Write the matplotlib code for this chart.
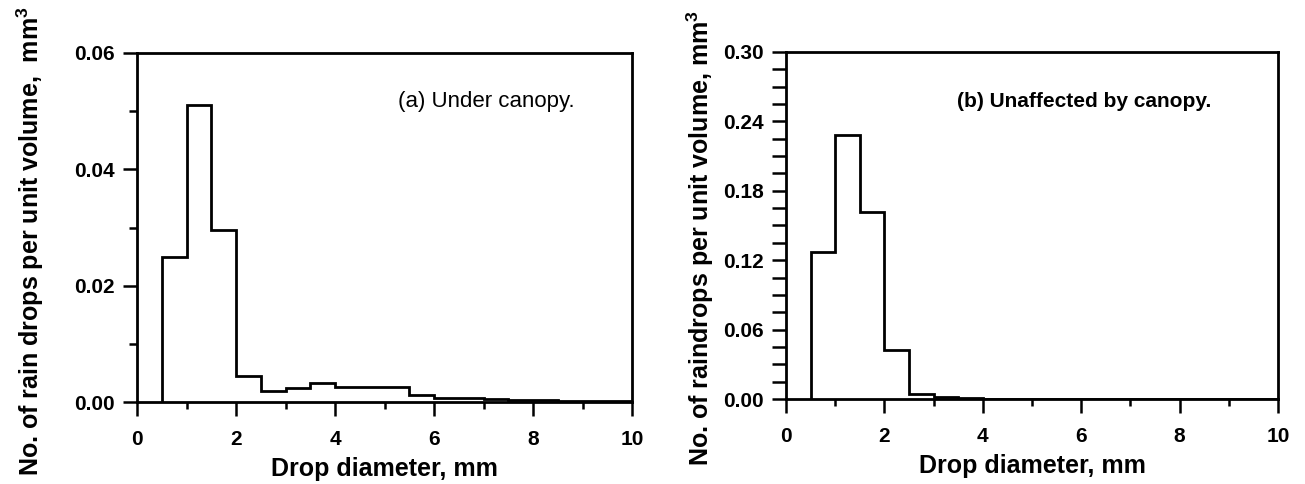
import matplotlib
matplotlib.use("Agg")
import matplotlib.pyplot as plt
from matplotlib.ticker import MultipleLocator, FormatStrFormatter

plt.rcParams['font.family'] = ['Liberation Sans', 'DejaVu Sans']
plt.rcParams['mathtext.fontset'] = 'custom'
plt.rcParams['mathtext.rm'] = 'Liberation Sans:bold'
plt.rcParams['mathtext.bf'] = 'Liberation Sans:bold'

# bin edges (mm)
edges = [0.5, 1.0, 1.5, 2.0, 2.5, 3.0, 3.5, 4.0, 4.5, 5.0, 5.5, 6.0,
         6.5, 7.0, 7.5, 8.0, 8.5, 9.0, 9.5, 10.0]

# (a) under canopy
under = [0.025, 0.051, 0.0296, 0.0045, 0.0019, 0.0024, 0.0033, 0.0025,
         0.0025, 0.0025, 0.0012, 0.0007, 0.0007, 0.0006, 0.0004, 0.0003,
         0.0002, 0.0001, 0.0001]

# (b) unaffected by canopy
open_sky = [0.127, 0.228, 0.162, 0.042, 0.004, 0.002, 0.001, 0.0, 0.0,
            0.0, 0.0, 0.0, 0.0, 0.0, 0.0, 0.0, 0.0, 0.0, 0.0]

fig = plt.figure(figsize=(13.05, 4.84), dpi=100)
ax1 = fig.add_axes([0.105, 0.1694, 0.3793, 0.7211])
ax2 = fig.add_axes([0.6023, 0.1756, 0.377, 0.717])

panels = [
    (ax1, under, 0.06, 0.02, 0.01, 6,
     "No. of rain drops per unit volume,  mm$^{3}$", (-0.183, 0.461),
     "(a) Under canopy.", 'normal', 16, (0.527, 0.86)),
    (ax2, open_sky, 0.30, 0.06, 0.015, 10,
     "No. of raindrops per unit volume, mm$^{3}$", (-0.142, 0.464),
     "(b) Unaffected by canopy.", 'bold', 15, (0.348, 0.857)),
]

for ax, vals, ymax, ymaj, ymin, yminlen, ylab, lpos, note, w, nfs, pos in panels:
    ax.stairs(vals, edges, baseline=0, color='black', linewidth=2)
    ax.set_xlim(0, 10)
    ax.set_ylim(0, ymax)
    ax.xaxis.set_major_locator(MultipleLocator(2))
    ax.xaxis.set_minor_locator(MultipleLocator(1))
    ax.yaxis.set_major_locator(MultipleLocator(ymaj))
    ax.yaxis.set_minor_locator(MultipleLocator(ymin))
    ax.yaxis.set_major_formatter(FormatStrFormatter("%.2f"))
    ax.tick_params(which='major', direction='out', length=10, width=1.8,
                   labelsize=15)
    ax.tick_params(which='minor', direction='out', length=5, width=1.8)
    ax.tick_params(axis='y', which='minor', length=yminlen)
    ax.tick_params(axis='y', which='major', pad=6)
    ax.tick_params(axis='x', which='major', pad=10)
    for lab in ax.get_xticklabels() + ax.get_yticklabels():
        lab.set_fontweight('bold')
    for s in ax.spines.values():
        s.set_linewidth(2)
    ax.set_xlabel("Drop diameter, mm", fontsize=18, fontweight='bold',
                  labelpad=6)
    ax.set_ylabel(ylab, fontsize=18, fontweight='bold')
    ax.yaxis.set_label_coords(lpos[0], lpos[1])
    ax.text(pos[0], pos[1], note, transform=ax.transAxes, fontsize=nfs,
            fontweight=w, va='center', ha='left')

fig.savefig("out.png", dpi=100)
